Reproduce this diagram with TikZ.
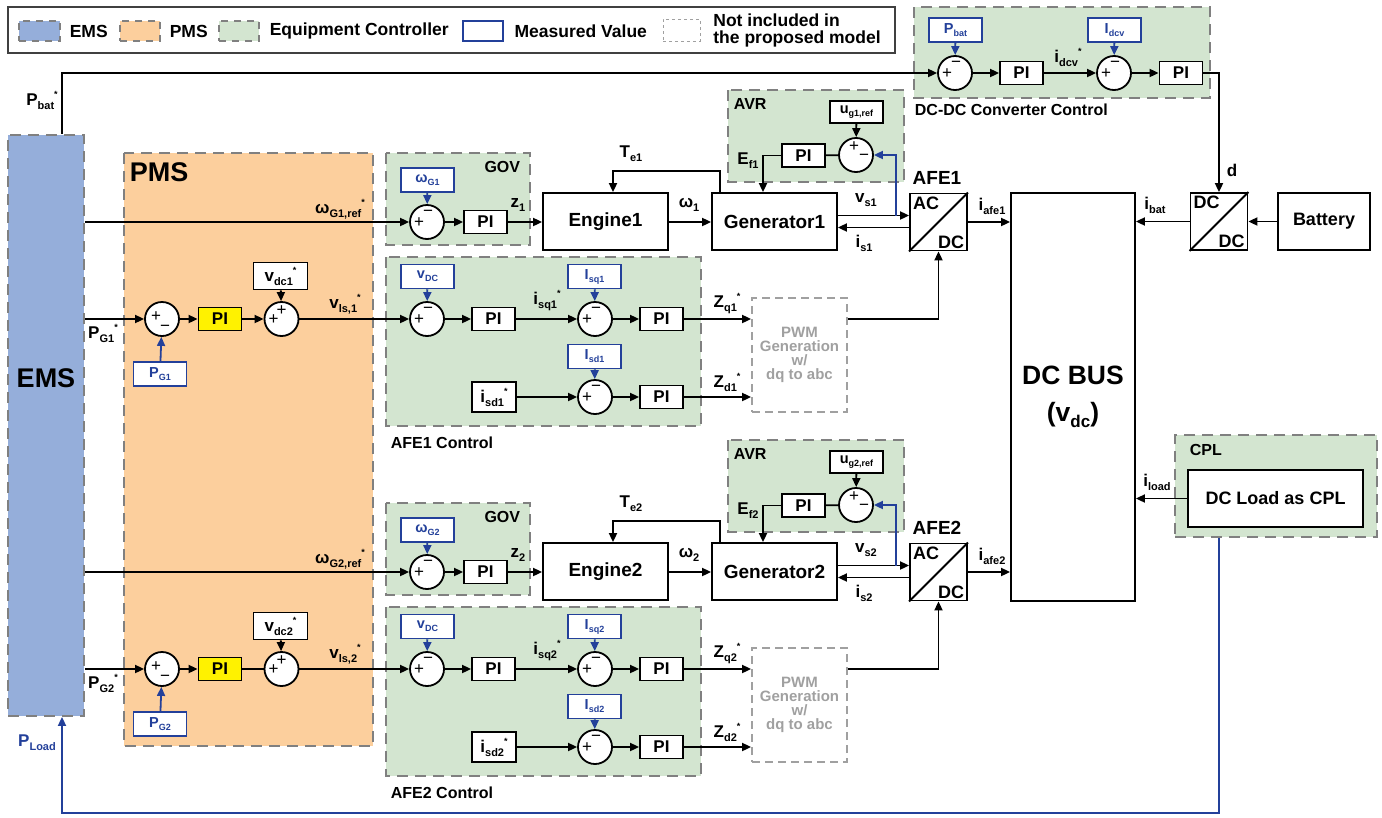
\documentclass[tikz,border=0pt]{standalone}
\usepackage{fontspec}
\setmainfont{Liberation Sans}
\usetikzlibrary{arrows.meta,positioning,calc}

\definecolor{emsblue}{RGB}{149,174,218}
\definecolor{pmsorange}{RGB}{252,207,157}
\definecolor{ctrlgreen}{RGB}{211,229,208}
\definecolor{measblue}{RGB}{35,64,154}
\definecolor{piyellow}{RGB}{255,242,0}
\definecolor{dashgray}{RGB}{128,128,128}
\definecolor{pwmgray}{RGB}{160,160,160}

\newcommand{\sig}[2]{#1\raisebox{-4pt}{\fontsize{11}{11}\selectfont #2}}
\newcommand{\msig}[2]{#1\raisebox{-3pt}{\fontsize{9}{9}\selectfont #2}}
\newcommand{\st}{\raisebox{8pt}{\fontsize{9}{9}\selectfont *}}

\begin{document}
\begin{tikzpicture}[x=1pt, y=-1pt, line width=1.8pt,
  font=\bfseries\fontsize{17}{19}\selectfont,
  >={Triangle[length=9pt,width=8pt]},
  region/.style={draw=dashgray, dash pattern=on 11pt off 7pt, line width=1.8pt, inner sep=0pt},
  blk/.style={draw, fill=white, minimum width=125pt, minimum height=57pt, inner sep=0pt,
              font=\bfseries\fontsize{19}{21}\selectfont},
  pibox/.style={draw, fill=white, minimum width=43pt, minimum height=23pt, inner sep=0pt},
  meas/.style={draw=measblue, text=measblue, fill=white, line width=1.5pt, minimum width=53pt,
               minimum height=24pt, inner sep=0pt, font=\bfseries\fontsize{14.5}{15}\selectfont},
  refbox/.style={draw, fill=white, minimum width=54pt, minimum height=27pt, inner sep=0pt},
  conv/.style={draw, fill=white, minimum size=57pt, inner sep=0pt},
  sumc/.style={circle, draw, fill=white, minimum size=34pt, inner sep=0pt},
  sgn/.style={font=\mdseries\fontsize{17}{17}\selectfont, inner sep=0pt},
  sumA/.style={sumc, label={[sgn, shift={(-8pt,-1pt)}]center:+}, label={[sgn, shift={(1pt,9pt)}]center:−}},
  sumB/.style={sumc, label={[sgn, shift={(-6pt,2pt)}]center:+}, label={[sgn, shift={(3pt,-9pt)}]center:−}},
  sumC/.style={sumc, label={[sgn, shift={(-8pt,-1pt)}]center:+}, label={[sgn, shift={(0pt,8pt)}]center:+}},
  sumD/.style={sumc, label={[sgn, shift={(-2pt,8pt)}]center:+}, label={[sgn, shift={(8pt,-2pt)}]center:−}},
  grplbl/.style={font=\bfseries\fontsize{16}{17}\selectfont, inner sep=0pt},
  lgd/.style={inner sep=0pt, font=\bfseries\fontsize{17.5}{17}\selectfont},
  lbl/.style={inner sep=0pt}]
\useasboundingbox (0,0) rectangle (1382,817);

% legend
\node[draw=black!75, line width=1.2pt, minimum width=887pt, minimum height=46pt, inner sep=0pt] (legend) at (451.5,30) {};
\node[region, fill=emsblue, minimum width=41pt, minimum height=20pt, dash pattern=on 7pt off 6pt] (lgems) at (39.5,31) {};
\node[lgd, right=8pt of lgems] (lgemstxt) {EMS};
\node[region, fill=pmsorange, minimum width=40pt, minimum height=20pt, dash pattern=on 7pt off 6pt] (lgpms) at (140,31) {};
\node[lgd, right=8pt of lgpms] (lgpmstxt) {PMS};
\node[region, fill=ctrlgreen, minimum width=40pt, minimum height=20pt, dash pattern=on 7pt off 6pt] (lgeq) at (239,31) {};
\node[lgd, right=9pt of lgeq] (lgeqtxt) {Equipment Controller};
\node[draw=measblue, line width=1.5pt, minimum width=40pt, minimum height=20pt, inner sep=0pt] (lgmeas) at (483,31) {};
\node[lgd, right=10pt of lgmeas] (lgmeastxt) {Measured Value};
\node[draw=pwmgray, line width=1pt, dash pattern=on 3pt off 3pt, minimum width=37pt, minimum height=22pt, inner sep=0pt] (lgnot) at (681.5,30) {};
\node[lgd, right=12pt of lgnot, align=left] (lgnottxt) {Not included in\\the proposed model};

% EMS and PMS
\path[region, fill=pmsorange] (124,153) rectangle (373,746);
\node[lbl, anchor=west, font=\bfseries\fontsize{27}{28}\selectfont] (pmstxt) at (129,172) {PMS};
\node[region, fill=emsblue, minimum width=76pt, minimum height=581pt] (ems) at (46,425.5) {};
\node[font=\bfseries\fontsize{27}{28}\selectfont] (emstxt) at (46,378) {EMS};

% DC-DC converter control
\path[region, fill=ctrlgreen] (914,7) rectangle (1210,98);
\node[grplbl, anchor=west] (dcdcctl) at (914,110) {DC-DC Converter Control};
\node[meas] (pbm) at (955.5,30) {\msig{P}{bat}};
\node[sumA] (sdc1) at (955,73) {};
\node[pibox] (pidc1) at (1021.5,73) {PI};
\node[meas] (idm) at (1114.5,30) {\msig{I}{dcv}};
\node[sumA] (sdc2) at (1114,73) {};
\node[pibox] (pidc2) at (1181,73) {PI};

% DC side
\node[draw, fill=white, minimum width=124pt, minimum height=408pt, inner sep=0pt, align=center,
      font=\bfseries\fontsize{26.5}{37}\selectfont] (dcbus) at (1073,397)
      {DC BUS\\(v\raisebox{-6pt}{\fontsize{17}{17}\selectfont dc})};
\node[conv] (dcdc) at (1219,221.5) {};
\draw (dcdc.south west) -- (dcdc.north east);
\node[lbl, anchor=north west, xshift=3pt, yshift=-3pt, font=\bfseries\fontsize{18}{18}\selectfont] (dcin) at (dcdc.north west) {DC};
\node[lbl, anchor=south east, xshift=-3pt, yshift=2pt, font=\bfseries\fontsize{18}{18}\selectfont] (dcout) at (dcdc.south east) {DC};
\node[blk, minimum width=92pt, font=\bfseries\fontsize{18}{20}\selectfont] (bat) at (1324,221.5) {Battery};
\node[region, fill=ctrlgreen, minimum width=202pt, minimum height=102pt] (cpl) at (1276,486) {};
\node[grplbl, anchor=west] (cpltxt) at (1189,450) {CPL};
\node[blk, minimum width=175pt, font=\bfseries\fontsize{18}{20}\selectfont] (load) at (1275.5,498.5) {DC Load as CPL};

\foreach \i/\dy in {1/0,2/350}{
  % equipment controllers
  \path[region, fill=ctrlgreen] (386,153+\dy) rectangle (530,245+\dy);
  \path[region, fill=ctrlgreen] (728,90+\dy) rectangle (904,182+\dy);
  \path[region, fill=ctrlgreen] (386,257+\dy) rectangle (701,426+\dy);
  \node[grplbl, anchor=east] (gov\i) at (521,167+\dy) {GOV};
  \node[grplbl, anchor=west] (avr\i) at (733,104+\dy) {AVR};
  \node[grplbl, anchor=west] (afectl\i) at (390,443+\dy) {AFE\i\ Control};
  % PMS
  \node[sumB] (sp\i) at (162,319+\dy) {};
  \node[meas] (pg\i) at (160,374+\dy) {\msig{P}{G\i}};
  \node[pibox, fill=piyellow] (pip\i) at (220,319+\dy) {PI};
  \node[sumC] (sv\i) at (281.5,319+\dy) {};
  \node[refbox] (vdc\i) at (280.5,276+\dy) {\sig{v}{dc\i}\st};
  % GOV
  \node[sumA] (sg\i) at (427,222+\dy) {};
  \node[meas] (wg\i) at (427.5,180+\dy) {\msig{ω}{G\i}};
  \node[pibox] (pig\i) at (485.5,222+\dy) {PI};
  % engine, generator, AFE
  \node[blk] (eng\i) at (605.5,221.5+\dy) {Engine\i};
  \node[blk] (gen\i) at (774.5,221.5+\dy) {Generator\i};
  \node[conv] (afe\i) at (938.5,222+\dy) {};
  \draw (afe\i.south west) -- (afe\i.north east);
  \node[lbl, anchor=north west, xshift=3pt, yshift=-3pt, font=\bfseries\fontsize{18}{18}\selectfont] (ac\i) at (afe\i.north west) {AC};
  \node[lbl, anchor=south east, xshift=-3pt, yshift=2pt, font=\bfseries\fontsize{18}{18}\selectfont] (dc\i) at (afe\i.south east) {DC};
  \node[lbl, font=\bfseries\fontsize{19}{20}\selectfont] (afename\i) at (937,178+\dy) {AFE\i};
  % AVR
  \node[refbox, minimum width=53pt, minimum height=22pt, font=\bfseries\fontsize{14.5}{15}\selectfont] (ug\i) at (856.5,112+\dy) {\msig{u}{g\i,ref}};
  \node[sumD] (sa\i) at (856,155+\dy) {};
  \node[pibox] (pia\i) at (803.5,155.5+\dy) {PI};
  \coordinate (vtap\i) at (896,215.5+\dy);
  % AFE control
  \node[meas] (vm\i) at (427.5,276.5+\dy) {\msig{v}{DC}};
  \node[sumA] (sd\i) at (427,319+\dy) {};
  \node[pibox] (piv\i) at (493.5,319+\dy) {PI};
  \node[meas] (iqm\i) at (594.5,276.5+\dy) {\msig{I}{sq\i}};
  \node[sumA] (sq\i) at (595,319+\dy) {};
  \node[pibox] (piq\i) at (661.5,319+\dy) {PI};
  \node[meas] (idm\i) at (594.5,356.5+\dy) {\msig{I}{sd\i}};
  \node[sumA] (sdd\i) at (595,397+\dy) {};
  \node[refbox, minimum width=44pt, minimum height=30pt] (idr\i) at (494,397+\dy) {\sig{i}{sd\i}\st};
  \node[pibox] (pid\i) at (661.5,397+\dy) {PI};
  \node[draw=pwmgray, dash pattern=on 8pt off 5pt, minimum width=95pt, minimum height=114pt, inner sep=0pt,
        text=pwmgray, align=center, font=\bfseries\fontsize{15}{14}\selectfont] (pwm\i) at (799.5,355+\dy)
        {PWM\\Generation\\w/\\dq to abc};
  % signal labels
  \node[lbl] (lwref\i) at (340,209+\dy) {\sig{ω}{G\i,ref}\st};
  \node[lbl] (lpg\i) at (103,333+\dy) {\sig{P}{G\i}\st};
  \node[lbl] (lvls\i) at (345,304+\dy) {\sig{v}{ls,\i}\st};
  \node[lbl] (lz\i) at (518,205+\dy) {\sig{z}{\i}};
  \node[lbl] (lw\i) at (689,205+\dy) {\sig{ω}{\i}};
  \node[lbl] (lte\i) at (631,154+\dy) {\sig{T}{e\i}};
  \node[lbl] (lef\i) at (748,161+\dy) {\sig{E}{f\i}};
  \node[lbl] (lvs\i) at (866,200+\dy) {\sig{v}{s\i}};
  \node[lbl] (lis\i) at (864,243+\dy) {\sig{i}{s\i}};
  \node[lbl] (lisq\i) at (547,301+\dy) {\sig{i}{sq\i}\st};
  \node[lbl] (lzq\i) at (727,304+\dy) {\sig{Z}{q\i}\st};
  \node[lbl] (lzd\i) at (727,382+\dy) {\sig{Z}{d\i}\st};
  \node[lbl] (liafe\i) at (992,206+\dy) {\sig{i}{afe\i}};
  % connectors
  \draw[->] (ems.east |- sg\i.west) -- (sg\i.west);
  \draw[->, measblue] (wg\i) -- (sg\i);
  \draw[->] (sg\i) -- (pig\i);
  \draw[->] (pig\i.east) -- (pig\i.east -| eng\i.west);
  \draw[->] (eng\i.east |- pig\i.east) -- (gen\i.west |- pig\i.east);
  \draw[->] ([xshift=-54.5pt]gen\i.north) -- ++(0,-21) -| ([xshift=7.5pt]eng\i.north);
  \draw[->] (gen\i.east |- vtap\i) -- (afe\i.west |- vtap\i);
  \draw[<-] ([yshift=-6pt]gen\i.east) -- ([yshift=-6pt]gen\i.east -| afe\i.west);
  \draw[->] (ug\i) -- (sa\i);
  \draw (sa\i) -- (pia\i);
  \draw[->] (pia\i.west) -| ([xshift=-11.5pt]gen\i.north);
  \draw[->, measblue] (vtap\i) |- (sa\i.east);
  \draw[->] (ems.east |- sp\i.west) -- (sp\i.west);
  \draw[->, measblue] (pg\i) -- (sp\i);
  \draw[->] (sp\i) -- (pip\i);
  \ifnum\i=1 \draw[->] (pip\i) -- (sv\i); \else \draw (pip\i) -- (sv\i); \fi
  \draw[->] (vdc\i) -- (sv\i);
  \draw[->] (sv\i) -- (sd\i);
  \draw[->, measblue] (vm\i) -- (sd\i);
  \draw[->] (sd\i) -- (piv\i);
  \draw[->] (piv\i) -- (sq\i);
  \draw[->, measblue] (iqm\i) -- (sq\i);
  \draw[->] (sq\i) -- (piq\i);
  \draw[->] (piq\i.east) -- (piq\i.east -| pwm\i.west);
  \draw[->, measblue] (idm\i) -- (sdd\i);
  \draw[->] (idr\i) -- (sdd\i);
  \draw[->] (sdd\i) -- (pid\i);
  \draw[->] (pid\i.east) -- (pid\i.east -| pwm\i.west);
  \draw[->] (pwm\i.east |- piq\i.east) -| (afe\i.south);
  \draw[->] (afe\i.east) -- (afe\i.east -| dcbus.west);
}

% DC side labels
\node[lbl] (lpbat) at (42,100) {\sig{P}{bat}\st};
\node[lbl] (lidcv) at (1068,57) {\sig{i}{dcv}\st};
\node[lbl] (ld) at (1232,170) {d};
\node[lbl] (libat) at (1155,205) {\sig{i}{bat}};
\node[lbl] (liload) at (1157,482) {\sig{i}{load}};
\node[lbl, text=measblue] (lpload) at (37,743) {\sig{P}{Load}};

% DC side connectors
\draw[->] ([xshift=16pt]ems.north) |- (sdc1.west);
\draw[->, measblue] (pbm) -- (sdc1);
\draw[->] (sdc1) -- (pidc1);
\draw[->] (pidc1) -- (sdc2);
\draw[->, measblue] (idm) -- (sdc2);
\draw[->] (sdc2) -- (pidc2);
\draw[->] (pidc2.east) -| (dcdc.north);
\draw[->] (bat) -- (dcdc);
\draw[->] (dcdc.west) -- (dcdc.west -| dcbus.east);
\draw[->] (load.west) -- (load.west -| dcbus.east);
\draw[->, measblue] ([xshift=-57pt]cpl.south) -- ++(0,275) -| ([xshift=16pt]ems.south);
\end{tikzpicture}
\end{document}
